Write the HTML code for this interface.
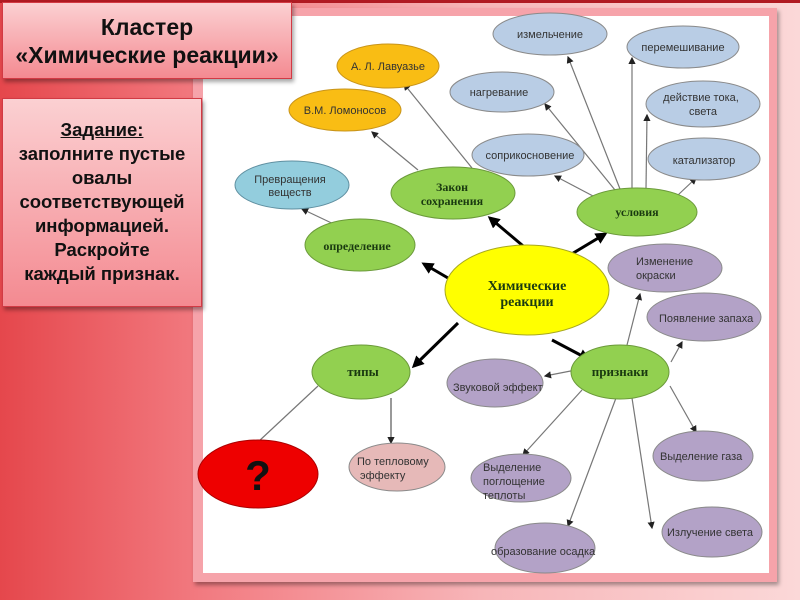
<!DOCTYPE html>
<html><head><meta charset="utf-8"><style>
body{margin:0;width:800px;height:600px;overflow:hidden;background:linear-gradient(90deg,#e5474c 0%,#f27a80 25%,#f7b5b8 60%,#fbd8d8 100%);font-family:"Liberation Sans",sans-serif;position:relative}
.top{position:absolute;left:0;top:0;width:800px;height:3px;background:#b01a22}
.panel{position:absolute;left:193px;top:8px;width:584px;height:574px;background:#f6a3aa;box-shadow:2px 3px 4px rgba(0,0,0,.35)}
.inner{position:absolute;left:203px;top:16px;width:566px;height:557px;background:#fff}
.box{position:absolute;background:linear-gradient(180deg,#fbd0d2,#f48a91);border:1px solid #d23a44;box-shadow:2px 3px 4px rgba(0,0,0,.35);text-align:center;color:#111;font-weight:bold}
svg{position:absolute;left:0;top:0}
text{font-family:"Liberation Sans",sans-serif;font-size:11px;fill:#333}
.g{font-family:"Liberation Serif",serif;font-weight:bold;fill:#1a3a10;font-size:12px}
</style></head><body>
<div class="top"></div>
<div class="panel"></div><div class="inner"></div>
<div class="box" style="left:2px;top:2px;width:290px;height:77px;font-size:23px;line-height:28px;padding-top:10px;box-sizing:border-box">Кластер<br>«Химические реакции»</div>
<div class="box" style="left:2px;top:98px;width:200px;height:209px;font-size:18.5px;line-height:24px;padding-top:19px;box-sizing:border-box;white-space:nowrap"><u>Задание:</u><br>заполните пустые<br>овалы<br>соответствующей<br>информацией.<br>Раскройте<br>каждый признак.</div>
<svg width="800" height="600">
<defs><marker id="a" markerWidth="6" markerHeight="6" refX="5" refY="3" orient="auto"><path d="M0,0L6,3L0,6z" fill="#222"/></marker>
<marker id="b" markerWidth="4" markerHeight="4" refX="3" refY="2" orient="auto"><path d="M0,0L4,2L0,4z" fill="#000"/></marker></defs>
<g stroke="#777" stroke-width="1.2" fill="none" marker-end="url(#a)">
<line x1="472" y1="168" x2="404" y2="84"/>
<line x1="418" y1="170" x2="372" y2="132"/>
<line x1="340" y1="227" x2="302" y2="209"/>
<line x1="620" y1="189" x2="568" y2="57"/>
<line x1="632" y1="188" x2="632" y2="58"/>
<line x1="615" y1="190" x2="545" y2="104"/>
<line x1="646" y1="189" x2="647" y2="115"/>
<line x1="593" y1="196" x2="555" y2="176"/>
<line x1="678" y1="195" x2="696" y2="178"/>
<line x1="626" y1="349" x2="640" y2="294"/>
<line x1="671" y1="362" x2="682" y2="342"/>
<line x1="586" y1="368" x2="545" y2="376"/>
<line x1="670" y1="386" x2="696" y2="432"/>
<line x1="582" y1="390" x2="523" y2="455"/>
<line x1="616" y1="398" x2="568" y2="526"/>
<line x1="632" y1="398" x2="652" y2="528"/>
<line x1="391" y1="398" x2="391" y2="443" stroke="#555"/>
<line x1="318" y1="386" x2="258" y2="442" marker-end="none"/>
</g>
<g stroke="#000" stroke-width="3" marker-end="url(#b)">
<line x1="535" y1="256" x2="490" y2="218"/>
<line x1="565" y1="258" x2="605" y2="234"/>
<line x1="448" y1="278" x2="424" y2="264"/>
<line x1="458" y1="323" x2="414" y2="366"/>
<line x1="552" y1="340" x2="588" y2="359"/>
</g>
<g stroke="#8a8a8a" stroke-width="1">
<ellipse cx="388" cy="66" rx="51" ry="22" fill="#f9bd14" stroke="#c8941a"/>
<ellipse cx="345" cy="110" rx="56" ry="21" fill="#f9bd14" stroke="#c8941a"/>
<ellipse cx="292" cy="185" rx="57" ry="24" fill="#93cddd" stroke="#5f8fa0"/>
<ellipse cx="453" cy="193" rx="62" ry="26" fill="#92d050" stroke="#6b9a3a"/>
<ellipse cx="360" cy="245" rx="55" ry="26" fill="#92d050" stroke="#6b9a3a"/>
<ellipse cx="637" cy="212" rx="60" ry="24" fill="#92d050" stroke="#6b9a3a"/>
<ellipse cx="527" cy="290" rx="82" ry="45" fill="#ffff00" stroke="#a8a820"/>
<ellipse cx="550" cy="34" rx="57" ry="21" fill="#b9cde5"/>
<ellipse cx="683" cy="47" rx="56" ry="21" fill="#b9cde5"/>
<ellipse cx="502" cy="92" rx="52" ry="20" fill="#b9cde5"/>
<ellipse cx="703" cy="104" rx="57" ry="23" fill="#b9cde5"/>
<ellipse cx="528" cy="155" rx="56" ry="21" fill="#b9cde5"/>
<ellipse cx="704" cy="159" rx="56" ry="21" fill="#b9cde5"/>
<ellipse cx="665" cy="268" rx="57" ry="24" fill="#b3a2c7"/>
<ellipse cx="704" cy="317" rx="57" ry="24" fill="#b3a2c7"/>
<ellipse cx="361" cy="372" rx="49" ry="27" fill="#92d050" stroke="#6b9a3a"/>
<ellipse cx="620" cy="372" rx="49" ry="27" fill="#92d050" stroke="#6b9a3a"/>
<ellipse cx="495" cy="383" rx="48" ry="24" fill="#b3a2c7"/>
<ellipse cx="258" cy="474" rx="60" ry="34" fill="#ee0000" stroke="#a00"/>
<ellipse cx="397" cy="467" rx="48" ry="24" fill="#e6b9b8"/>
<ellipse cx="521" cy="478" rx="50" ry="24" fill="#b3a2c7"/>
<ellipse cx="703" cy="456" rx="50" ry="25" fill="#b3a2c7"/>
<ellipse cx="545" cy="548" rx="50" ry="25" fill="#b3a2c7"/>
<ellipse cx="712" cy="532" rx="50" ry="25" fill="#b3a2c7"/>
</g>
<text x="388" y="70" text-anchor="middle">А. Л. Лавуазье</text>
<text x="345" y="114" text-anchor="middle">В.М. Ломоносов</text>
<text x="290" y="183" text-anchor="middle">Превращения</text>
<text x="290" y="196" text-anchor="middle">веществ</text>
<text class="g" x="452" y="191" text-anchor="middle">Закон</text>
<text class="g" x="452" y="205" text-anchor="middle">сохранения</text>
<text class="g" x="357" y="250" text-anchor="middle">определение</text>
<text class="g" x="637" y="216" text-anchor="middle">условия</text>
<text class="g" x="527" y="290" text-anchor="middle" style="font-size:14px">Химические</text>
<text class="g" x="527" y="306" text-anchor="middle" style="font-size:14px">реакции</text>
<text x="550" y="38" text-anchor="middle">измельчение</text>
<text x="683" y="51" text-anchor="middle">перемешивание</text>
<text x="499" y="96" text-anchor="middle">нагревание</text>
<text x="701" y="101" text-anchor="middle">действие тока,</text>
<text x="703" y="115" text-anchor="middle">света</text>
<text x="530" y="159" text-anchor="middle">соприкосновение</text>
<text x="704" y="164" text-anchor="middle">катализатор</text>
<text x="636" y="265">Изменение</text>
<text x="636" y="279">окраски</text>
<text x="659" y="322">Появление запаха</text>
<text class="g" x="363" y="376" text-anchor="middle" style="font-size:13px">типы</text>
<text class="g" x="620" y="376" text-anchor="middle" style="font-size:13px">признаки</text>
<text x="453" y="391">Звуковой эффект</text>
<text x="258" y="490" text-anchor="middle" style="font-size:42px;font-weight:bold;fill:#111">?</text>
<text x="357" y="465">По тепловому</text>
<text x="360" y="479">эффекту</text>
<text x="483" y="471">Выделение</text>
<text x="483" y="485">поглощение</text>
<text x="483" y="499">теплоты</text>
<text x="660" y="460">Выделение газа</text>
<text x="491" y="555">образование осадка</text>
<text x="667" y="536">Излучение света</text>
</svg>
</body></html>
